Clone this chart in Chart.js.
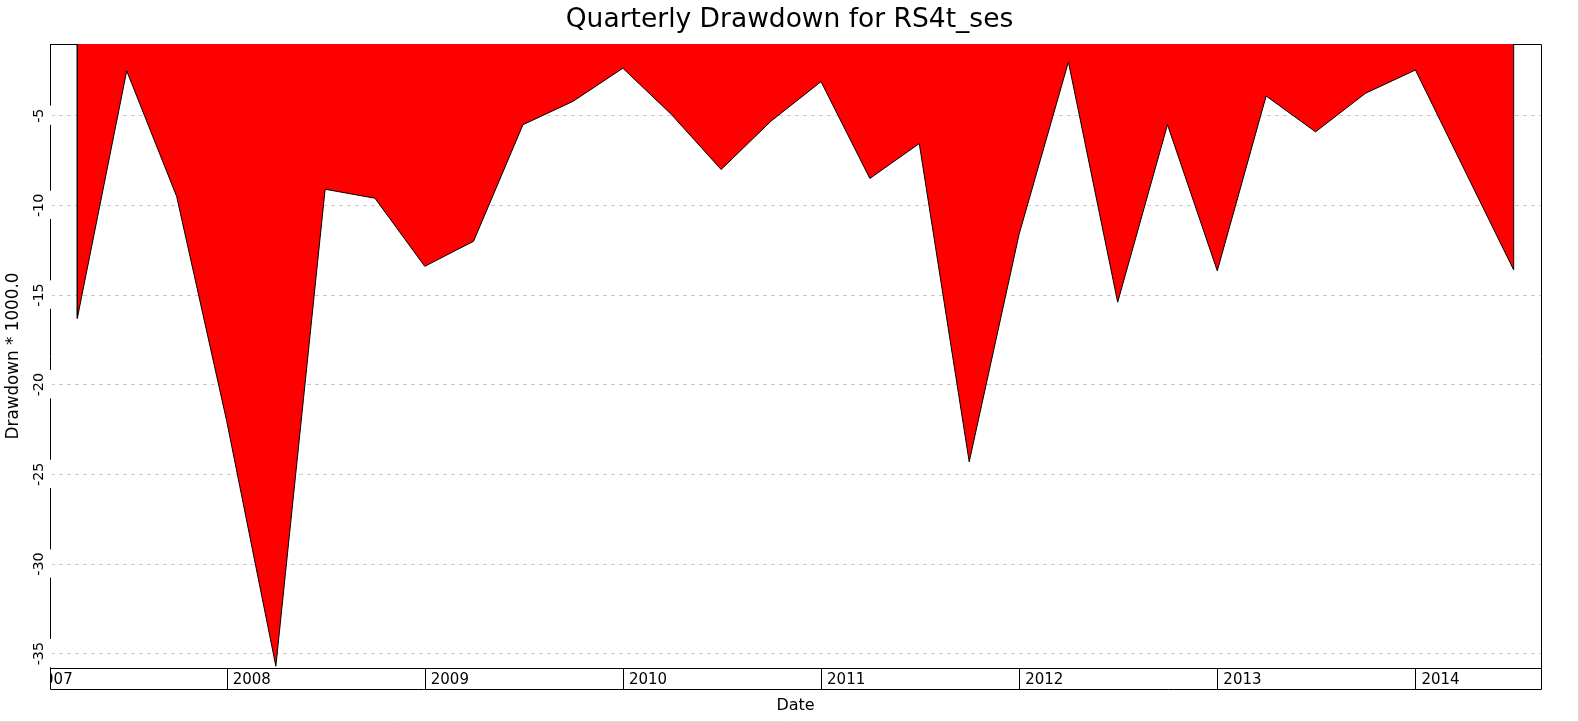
<!DOCTYPE html>
<html><head><meta charset="utf-8">
<script src="https://cdn.jsdelivr.net/npm/chart.js@4/dist/chart.umd.min.js"></script>
<style>
html,body{margin:0;padding:0;background:#fff;overflow:hidden;}
canvas{display:block;}
</style></head><body>
<canvas id="c" width="1579" height="722" style="width:1579px;height:722px"></canvas>
<script>
// ---- data ----
const quarterDates = [
  '2007-03-31','2007-06-30','2007-09-30','2007-12-31',
  '2008-03-31','2008-06-30','2008-09-30','2008-12-31',
  '2009-03-31','2009-06-30','2009-09-30','2009-12-31',
  '2010-03-31','2010-06-30','2010-09-30','2010-12-31',
  '2011-03-31','2011-06-30','2011-09-30','2011-12-31',
  '2012-03-31','2012-06-30','2012-09-30','2012-12-31',
  '2013-03-31','2013-06-30','2013-09-30','2013-12-31',
  '2014-03-31','2014-06-30'
];
const drawdownValues = [
  -16.3, -2.5, -9.5, -22.0,
  -35.7, -9.1, -9.6, -13.4,
  -12.0, -5.5, -4.2, -2.35,
  -4.95, -8.0, -5.3, -3.1,
  -8.5, -6.55, -24.3, -11.6,
  -2.0, -15.4, -5.5, -13.65,
  -3.9, -5.9, -3.75, -2.45,
  -8.0, -13.6
];
const yearLabels = ['2007','2008','2009','2010','2011','2012','2013','2014'];
const yTickValues = [-35, -30, -25, -20, -15, -10, -5];

// ---- helpers ----
function toYear(s) {
  const d = Date.parse(s + 'T00:00:00Z');
  const y = new Date(d).getUTCFullYear();
  const a = Date.UTC(y, 0, 1), b = Date.UTC(y + 1, 0, 1);
  return y + (d - a) / (b - a);
}
const xs = quarterDates.map(toYear);
const points = xs.map((x, i) => ({x: x, y: drawdownValues[i]}));
// polygon closes back to the zero line at both ends
const polygon = [{x: xs[0], y: 0}].concat(points, [{x: xs[xs.length - 1], y: 0}]);

function al(p) { return Math.round(p - 0.5) + 0.5; }

const framePlugin = {
  id: 'frame',
  beforeDraw(chart) {
    const sx = chart.scales.x, sy = chart.scales.y;
    sx._computeLabelArea = function () { return {top: this.top, left: this.left, bottom: this.bottom, right: this.right}; };
    sy._computeLabelArea = function () { return {top: 0, left: this.left, bottom: chart.height, right: this.right + 2}; };
  },
  beforeDatasetsDraw(chart) {
    const {ctx, chartArea: a} = chart;
    ctx.save();
    ctx.strokeStyle = '#000'; ctx.lineWidth = 1;
    ctx.beginPath();
    ctx.moveTo(al(a.left), al(a.top)); ctx.lineTo(al(a.right), al(a.top));
    ctx.lineTo(al(a.right), al(a.bottom));
    ctx.stroke();
    ctx.restore();
  },
  afterDraw(chart) {
    const {ctx, chartArea: a, width: W, height: H} = chart;
    const sx = chart.scales.x;
    const bandBottom = sx.top + sx.options.grid.tickLength;
    ctx.save();
    ctx.strokeStyle = '#000'; ctx.lineWidth = 1;
    ctx.beginPath();
    ctx.moveTo(al(a.left), al(a.bottom)); ctx.lineTo(al(a.left), al(bandBottom));
    ctx.lineTo(al(a.right), al(bandBottom)); ctx.lineTo(al(a.right), al(a.bottom));
    ctx.stroke();
    // light frame at the right and bottom edges of the picture
    ctx.strokeStyle = '#d9d9d9';
    ctx.beginPath();
    ctx.moveTo(W - 0.5, 0); ctx.lineTo(W - 0.5, H - 0.5); ctx.lineTo(0, H - 0.5);
    ctx.stroke();
    ctx.restore();
  }
};

Chart.defaults.font.family = 'DejaVu Sans';
Chart.defaults.color = '#000';

new Chart(document.getElementById('c'), {
  type: 'line',
  data: {
    datasets: [{
      data: polygon,
      borderColor: '#000',
      borderWidth: 1,
      backgroundColor: '#ff0000',
      fill: {value: 0},
      pointRadius: 0,
      tension: 0,
      yAxisID: 'y'
    }]
  },
  plugins: [framePlugin],
  options: {
    responsive: false,
    animation: false,
    layout: {padding: {left: 0, right: 0, top: 0, bottom: 1}},
    plugins: {
      legend: {display: false},
      tooltip: {enabled: false},
      title: {
        display: true,
        text: 'Quarterly Drawdown for RS4t_ses',
        font: {family: 'DejaVu Sans', size: 26.5, weight: 'normal'},
        color: '#000',
        padding: {top: 4, bottom: 8.2}
      }
    },
    scales: {
      x: {
        type: 'linear',
        position: 'bottom',
        min: 2007.106,
        max: 2014.631,
        afterBuildTicks: s => { s.ticks = yearLabels.map(l => ({value: toYear(l + '-01-01')})); },
        afterFit: s => { s.height = 53; },
        ticks: {
          autoSkip: false, maxRotation: 0, minRotation: 0,
          align: 'start', labelOffset: 5.5, padding: -18,
          font: {size: 15}, color: '#000',
          callback: (v, i) => yearLabels[i]
        },
        grid: {
          drawOnChartArea: false, drawTicks: true, tickLength: 21, lineWidth: 1,
          color: c => (c.tick && c.tick.value < c.scale.min) ? 'rgba(0,0,0,0)' : '#000'
        },
        border: {display: true, color: '#000', width: 1},
        title: {display: true, text: 'Date', font: {size: 16}, color: '#000', padding: {top: 0, bottom: 5.4}}
      },
      y: {
        type: 'linear',
        position: 'left',
        min: -35.8,
        max: -1,
        afterBuildTicks: s => { s.ticks = yTickValues.map(v => ({value: v})); },
        afterFit: s => { s.width = 50; },
        ticks: {
          minRotation: 90, maxRotation: 90,
          crossAlign: 'center', padding: -1,
          font: {size: 14.3}, color: '#000',
          showLabelBackdrop: true, backdropColor: '#fff',
          backdropPadding: {top: 2, bottom: 4, left: 2, right: 3},
          callback: v => String(v)
        },
        grid: {color: '#cccccc', lineWidth: 1, drawTicks: false},
        border: {display: true, color: '#000', width: 1, dash: [4, 4]},
        title: {display: true, text: 'Drawdown * 1000.0', font: {size: 16.8}, color: '#000', padding: {top: 4, bottom: 0}}
      },
      yRight: {
        type: 'linear',
        position: 'right',
        display: true,
        afterFit: s => { s.width = 38; },
        ticks: {display: false},
        grid: {display: false, drawTicks: false},
        border: {display: false},
        title: {display: false}
      }
    }
  }
});
</script>
</body></html>
